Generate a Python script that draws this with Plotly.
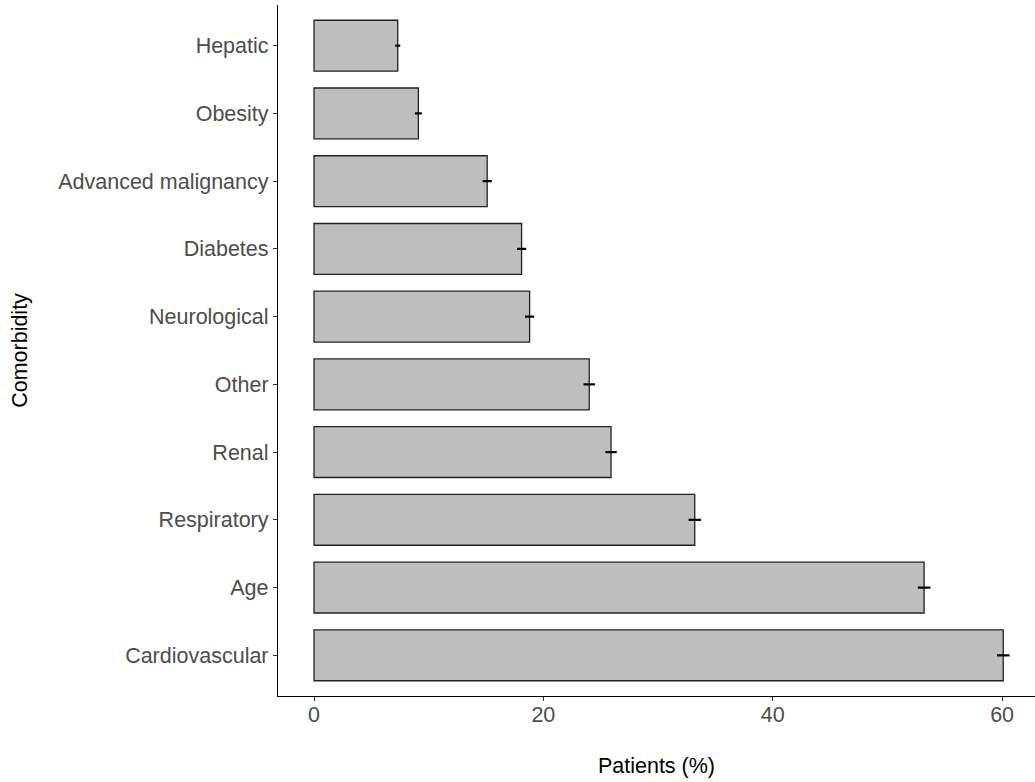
import plotly.graph_objects as go

categories = ["Cardiovascular", "Age", "Respiratory", "Renal", "Other",
              "Neurological", "Diabetes", "Advanced malignancy", "Obesity", "Hepatic"]
patients_pct = [60.1, 53.2, 33.2, 25.9, 24.0, 18.8, 18.1, 15.1, 9.1, 7.3]
error_pct = [0.55, 0.55, 0.55, 0.5, 0.5, 0.4, 0.4, 0.4, 0.3, 0.22]
x_ticks = [0, 20, 40, 60]

fig = go.Figure(go.Bar(
    x=patients_pct, y=categories, orientation="h", width=0.75,
    marker=dict(color="#BEBEBE", line=dict(color="#222222", width=1.3)),
    error_x=dict(type="data", array=error_pct, visible=True,
                 color="black", thickness=2.2, width=0),
))

font = "Liberation Sans, Arial, sans-serif"
fig.update_layout(
    width=1035, height=782,
    margin=dict(l=278, r=0, t=5, b=86, autoexpand=False),
    plot_bgcolor="white", paper_bgcolor="white",
    showlegend=False,
)
fig.update_xaxes(
    range=[-3.14, 62.87], tickvals=x_ticks, ticktext=[str(v) for v in x_ticks],
    showgrid=False, zeroline=False, showline=True, linecolor="black", linewidth=1.3,
    ticks="outside", ticklen=4, tickwidth=1.3, tickcolor="#333333",
    tickfont=dict(family=font, size=21.5, color="#4D4D4D"),
    ticklabelstandoff=-5,
    title=dict(text="Patients (%)", font=dict(family=font, size=21.5, color="black"), standoff=31),
    automargin=False,
)
fig.update_yaxes(
    range=[-0.6, 9.6], categoryorder="array", categoryarray=categories,
    showgrid=False, zeroline=False, showline=True, linecolor="black", linewidth=1.3,
    ticks="outside", ticklen=4, tickwidth=1.3, tickcolor="#333333",
    tickfont=dict(family=font, size=21.5, color="#4D4D4D"),
    title=dict(text="Comorbidity", font=dict(family=font, size=21.5, color="black"), standoff=24),
    automargin=False,
)
fig.write_html("out.html", config={"displayModeBar": False},
               post_script="document.body.style.margin='0';")
